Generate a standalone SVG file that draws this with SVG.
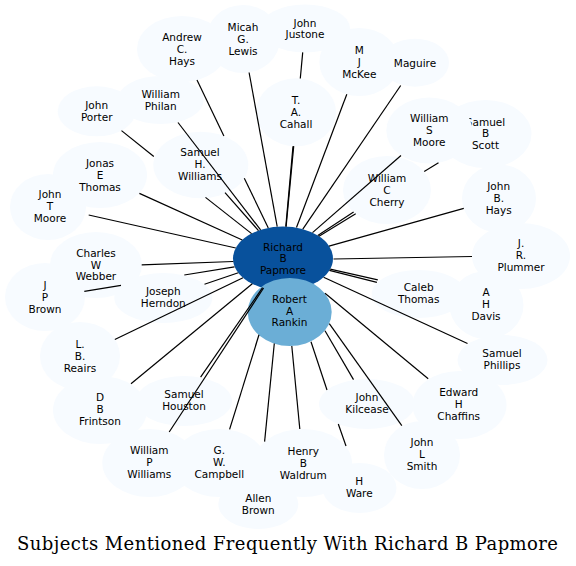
<svg xmlns="http://www.w3.org/2000/svg" width="576" height="566" viewBox="0 0 576 566">
<style>
.bg{fill:#ffffff}
.n{fill:#f7fbff;stroke:none}
.t{font-family:"DejaVu Sans","Liberation Sans",sans-serif;font-size:10.5px;text-anchor:middle;fill:#000}
.e line{stroke:#000;stroke-width:1.2;fill:none}
.title{font-family:"DejaVu Serif","Liberation Serif",serif;font-size:18px;text-anchor:middle;fill:#000}
</style>
<rect class="bg" x="0" y="0" width="576" height="566"/>
<g id="nodes">
<g id="n-papmore"><ellipse cx="283" cy="258.5" rx="50" ry="32" fill="#08519c"/><text class="t"><tspan x="283" y="250.5">Richard</tspan><tspan x="283" y="262.2">B</tspan><tspan x="283" y="273.9">Papmore</tspan></text></g>
<g id="n-andrew-hays"><ellipse class="n" cx="182" cy="49" rx="45" ry="33"/><text class="t"><tspan x="182" y="40.7">Andrew</tspan><tspan x="182" y="52.6">C.</tspan><tspan x="182" y="64.5">Hays</tspan></text></g>
<g id="n-micah-lewis"><ellipse class="n" cx="243" cy="39" rx="37" ry="34"/><text class="t"><tspan x="243" y="30.9">Micah</tspan><tspan x="243" y="42.8">G.</tspan><tspan x="243" y="54.7">Lewis</tspan></text></g>
<g id="n-john-justone"><ellipse class="n" cx="305" cy="28.5" rx="45" ry="24"/><text class="t"><tspan x="305" y="26.5">John</tspan><tspan x="305" y="38.2">Justone</tspan></text></g>
<g id="n-mckee"><ellipse class="n" cx="359.3" cy="62" rx="40" ry="34"/><text class="t"><tspan x="359.3" y="53.9">M</tspan><tspan x="359.3" y="65.8">J</tspan><tspan x="359.3" y="77.7">McKee</tspan></text></g>
<g id="n-maguire"><ellipse class="n" cx="415" cy="62.7" rx="34" ry="24"/><text class="t" x="415" y="66.5">Maguire</text></g>
<g id="n-cahall"><ellipse class="n" cx="296" cy="112.3" rx="40" ry="34"/><text class="t"><tspan x="296" y="104.1">T.</tspan><tspan x="296" y="116">A.</tspan><tspan x="296" y="127.9">Cahall</tspan></text></g>
<g id="n-william-philan"><ellipse class="n" cx="160.7" cy="100" rx="43" ry="24"/><text class="t"><tspan x="160.7" y="97.9">William</tspan><tspan x="160.7" y="109.7">Philan</tspan></text></g>
<g id="n-john-porter"><ellipse class="n" cx="96.7" cy="111.3" rx="39" ry="25"/><text class="t"><tspan x="96.7" y="109.2">John</tspan><tspan x="96.7" y="121">Porter</tspan></text></g>
<g id="n-samuel-h-williams"><ellipse class="n" cx="200.8" cy="165" rx="47.5" ry="33.3"/><text class="t"><tspan x="200" y="156">Samuel</tspan><tspan x="200" y="167.9">H.</tspan><tspan x="200" y="179.8">Williams</tspan></text></g>
<g id="n-jonas-thomas"><ellipse class="n" cx="100" cy="175" rx="47" ry="33"/><text class="t"><tspan x="100" y="166.9">Jonas</tspan><tspan x="100" y="178.8">E</tspan><tspan x="100" y="190.7">Thomas</tspan></text></g>
<g id="n-john-t-moore"><ellipse class="n" cx="48" cy="207" rx="38" ry="33"/><text class="t"><tspan x="50" y="198.1">John</tspan><tspan x="50" y="210">T</tspan><tspan x="50" y="221.9">Moore</tspan></text></g>
<g id="n-jp-brown"><ellipse class="n" cx="45" cy="297" rx="40" ry="34"/><text class="t"><tspan x="45" y="288.9">J</tspan><tspan x="45" y="300.8">P</tspan><tspan x="45" y="312.7">Brown</tspan></text></g>
<g id="n-charles-webber"><ellipse class="n" cx="96" cy="265" rx="46" ry="33"/><text class="t"><tspan x="96" y="256.6">Charles</tspan><tspan x="96" y="268.5">W</tspan><tspan x="96" y="280.4">Webber</tspan></text></g>
<g id="n-joseph-herndon"><ellipse class="n" cx="163.3" cy="298" rx="49" ry="25"/><text class="t"><tspan x="163.3" y="295.4">Joseph</tspan><tspan x="163.3" y="307.2">Herndon</tspan></text></g>
<g id="n-reairs"><ellipse class="n" cx="80" cy="356" rx="40" ry="34"/><text class="t"><tspan x="80" y="347.9">L.</tspan><tspan x="80" y="359.8">B.</tspan><tspan x="80" y="371.7">Reairs</tspan></text></g>
<g id="n-frintson"><ellipse class="n" cx="100" cy="410" rx="47" ry="34"/><text class="t"><tspan x="100" y="401.2">D</tspan><tspan x="100" y="413.1">B</tspan><tspan x="100" y="425">Frintson</tspan></text></g>
<g id="n-samuel-houston"><ellipse class="n" cx="184" cy="401" rx="48" ry="25"/><text class="t"><tspan x="184" y="397.9">Samuel</tspan><tspan x="184" y="409.7">Houston</tspan></text></g>
<g id="n-william-p-williams"><ellipse class="n" cx="149.3" cy="463" rx="47" ry="34"/><text class="t"><tspan x="149.3" y="453.9">William</tspan><tspan x="149.3" y="465.8">P</tspan><tspan x="149.3" y="477.7">Williams</tspan></text></g>
<g id="n-campbell"><ellipse class="n" cx="219.3" cy="463" rx="47" ry="34"/><text class="t"><tspan x="219.3" y="454.1">G.</tspan><tspan x="219.3" y="466">W.</tspan><tspan x="219.3" y="477.9">Campbell</tspan></text></g>
<g id="n-h-ware"><ellipse class="n" cx="359.5" cy="488" rx="37" ry="25"/><text class="t"><tspan x="359.3" y="484.7">H</tspan><tspan x="359.3" y="496.5">Ware</tspan></text></g>
<g id="n-waldrum"><ellipse class="n" cx="303" cy="463" rx="49" ry="34"/><text class="t"><tspan x="303.3" y="454.8">Henry</tspan><tspan x="303.3" y="466.7">B</tspan><tspan x="303.3" y="478.6">Waldrum</tspan></text></g>
<g id="n-allen-brown"><ellipse class="n" cx="258.3" cy="504" rx="40" ry="25"/><text class="t"><tspan x="258.3" y="501.7">Allen</tspan><tspan x="258.3" y="513.5">Brown</tspan></text></g>
<g id="n-kilcease"><ellipse class="n" cx="367" cy="404" rx="48" ry="25"/><text class="t"><tspan x="367" y="401.2">John</tspan><tspan x="367" y="413">Kilcease</tspan></text></g>
<g id="n-john-l-smith"><ellipse class="n" cx="422" cy="455" rx="38" ry="34"/><text class="t"><tspan x="422" y="445.7">John</tspan><tspan x="422" y="457.6">L</tspan><tspan x="422" y="469.5">Smith</tspan></text></g>
<g id="n-chaffins"><ellipse class="n" cx="459.5" cy="405" rx="47" ry="34"/><text class="t"><tspan x="458.7" y="395.9">Edward</tspan><tspan x="458.7" y="407.8">H</tspan><tspan x="458.7" y="419.7">Chaffins</tspan></text></g>
<g id="n-samuel-phillips"><ellipse class="n" cx="502.5" cy="360" rx="45" ry="25"/><text class="t"><tspan x="502" y="357.1">Samuel</tspan><tspan x="502" y="368.9">Phillips</tspan></text></g>
<g id="n-davis"><ellipse class="n" cx="486.5" cy="305" rx="37" ry="34"/><text class="t"><tspan x="486" y="296.1">A</tspan><tspan x="486" y="308">H</tspan><tspan x="486" y="319.9">Davis</tspan></text></g>
<g id="n-caleb-thomas"><ellipse class="n" cx="418.7" cy="294" rx="47" ry="24"/><text class="t"><tspan x="418.7" y="291.2">Caleb</tspan><tspan x="418.7" y="303">Thomas</tspan></text></g>
<g id="n-plummer"><ellipse class="n" cx="521" cy="256" rx="49" ry="33"/><text class="t"><tspan x="521" y="246.7">J.</tspan><tspan x="521" y="258.6">R.</tspan><tspan x="521" y="270.5">Plummer</tspan></text></g>
<g id="n-john-b-hays"><ellipse class="n" cx="499" cy="198.5" rx="37" ry="34"/><text class="t"><tspan x="498.7" y="189.9">John</tspan><tspan x="498.7" y="201.8">B.</tspan><tspan x="498.7" y="213.7">Hays</tspan></text></g>
<g id="n-cherry"><ellipse class="n" cx="387" cy="190" rx="44" ry="34"/><text class="t"><tspan x="387" y="181.7">William</tspan><tspan x="387" y="193.6">C</tspan><tspan x="387" y="205.5">Cherry</tspan></text></g>
<g id="n-samuel-scott"><ellipse class="n" cx="485.5" cy="134" rx="46" ry="34"/><text class="t"><tspan x="485.5" y="125.5">Samuel</tspan><tspan x="485.5" y="137.4">B</tspan><tspan x="485.5" y="149.3">Scott</tspan></text></g>
<g id="n-william-s-moore"><ellipse class="n" cx="429.3" cy="130.5" rx="43" ry="33"/><text class="t"><tspan x="429.3" y="122.1">William</tspan><tspan x="429.3" y="134">S</tspan><tspan x="429.3" y="145.9">Moore</tspan></text></g>
<g id="n-rankin"><ellipse cx="289.7" cy="312" rx="42" ry="34" fill="#6baed6"/><text class="t"><tspan x="289.5" y="302.8">Robert</tspan><tspan x="289.5" y="314.5">A</tspan><tspan x="289.5" y="326.1">Rankin</tspan></text></g>
</g>
<g id="connectors" class="e">
<line x1="197" y1="80.1" x2="223.9" y2="135.9"/>
<line x1="244.3" y1="178.3" x2="268.3" y2="227.9"/>
<line x1="249.1" y1="72.5" x2="277.2" y2="226.7"/>
<line x1="302.7" y1="52.4" x2="300.3" y2="78.5"/>
<line x1="293.7" y1="146.1" x2="286.1" y2="226.6"/>
<line x1="293" y1="146.2" x2="285.8" y2="226.6"/>
<line x1="346.8" y1="94.3" x2="296.5" y2="227.5"/>
<line x1="400.7" y1="85.5" x2="302.8" y2="229.1"/>
<line x1="401" y1="155.5" x2="312.5" y2="232.6"/>
<line x1="438.5" y1="162.8" x2="424.2" y2="171.4"/>
<line x1="355.7" y1="213.7" x2="319" y2="236.3"/>
<line x1="353.6" y1="211.9" x2="317.8" y2="235.5"/>
<line x1="463.8" y1="208.4" x2="329" y2="246.2"/>
<line x1="472" y1="256.5" x2="333.5" y2="259"/>
<line x1="329.4" y1="270.4" x2="376.9" y2="282.4"/>
<line x1="330.2" y1="269.1" x2="377.8" y2="279.8"/>
<line x1="323.6" y1="277.2" x2="467.5" y2="343.5"/>
<line x1="325" y1="293.2" x2="428.2" y2="378.8"/>
<line x1="329.3" y1="323.6" x2="401.8" y2="425.6"/>
<line x1="325" y1="330.7" x2="353.5" y2="379.6"/>
<line x1="311" y1="341.8" x2="327" y2="390"/>
<line x1="338.3" y1="424" x2="346" y2="446"/>
<line x1="291.8" y1="346" x2="299.8" y2="429"/>
<line x1="274.3" y1="343.5" x2="264.6" y2="441.6"/>
<line x1="259" y1="334.8" x2="229.6" y2="429.4"/>
<line x1="263.6" y1="288" x2="169.2" y2="432"/>
<line x1="262.6" y1="287.7" x2="200.6" y2="377.2"/>
<line x1="131" y1="383.8" x2="252.3" y2="283.8"/>
<line x1="114.8" y1="339.5" x2="243" y2="277.7"/>
<line x1="204.5" y1="284.2" x2="238.3" y2="272.8"/>
<line x1="84.3" y1="291.4" x2="121" y2="285.3"/>
<line x1="184.3" y1="275" x2="234.5" y2="266.9"/>
<line x1="141.7" y1="264.8" x2="233.3" y2="261.5"/>
<line x1="88.7" y1="215" x2="235.8" y2="248"/>
<line x1="139.4" y1="193.4" x2="242.3" y2="240"/>
<line x1="121.5" y1="130.6" x2="153.8" y2="156.5"/>
<line x1="205.5" y1="197.4" x2="251.6" y2="233.6"/>
<line x1="178" y1="122.5" x2="260.6" y2="229.9"/>
<line x1="225" y1="192.6" x2="258.5" y2="230.6"/>
</g>
<text class="title" x="287.5" y="549.5" textLength="541" lengthAdjust="spacing">Subjects Mentioned Frequently With Richard B Papmore</text>
</svg>
